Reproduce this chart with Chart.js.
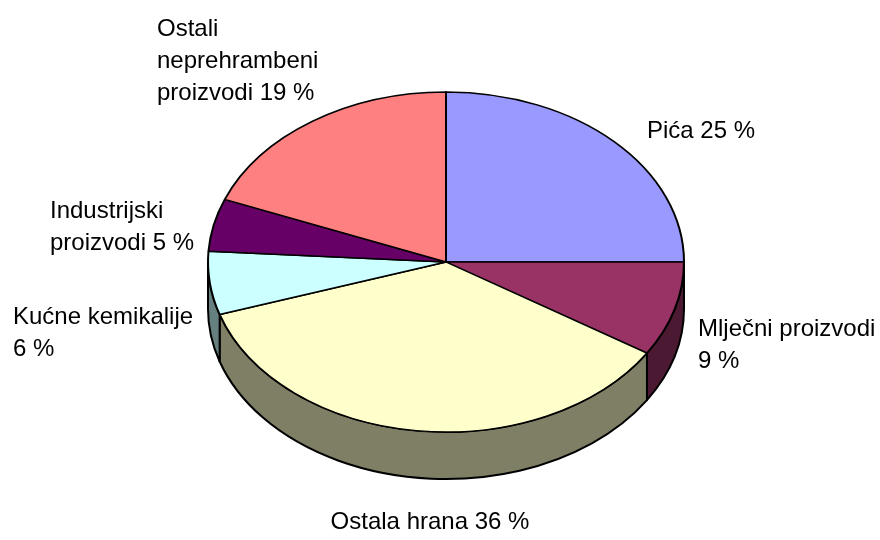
<!DOCTYPE html>
<html>
<head>
<meta charset="utf-8">
<title>Struktura prodaje</title>
<script src="https://cdn.jsdelivr.net/npm/chart.js@4.4.1/dist/chart.umd.min.js"></script>
<style>
    body { margin: 0; background: #fff; }
    canvas { display: block; }
</style>
</head>
<body>
<canvas id="pieChart" width="880" height="540"></canvas>
<script>
// Chart data
const categories = ['Pića', 'Mlječni proizvodi', 'Ostala hrana', 'Kućne kemikalije', 'Industrijski proizvodi', 'Ostali neprehrambeni proizvodi'];
const shares = [25, 9, 36, 6, 5, 19];
const sliceColors = ['#9999FF', '#993366', '#FFFFCC', '#CCFFFF', '#660066', '#FF8080'];

// Look of the fake 3D pie
const tilt = 170 / 238;   // vertical squash of the top face
const depth = 47;         // height of the side wall
const edgeWidth = 2;
const labelFont = '24px "Liberation Sans", Arial, sans-serif';
const lineHeight = 32;

// Label boxes, relative to the pie centre: [dx, dy of first baseline, align, wrap width]
const labelLayout = [
    [201, -124, 'left', 220],
    [252, 74, 'left', 180],
    [-16, 267, 'center', 300],
    [-433, 62, 'left', 185],
    [-396, -44, 'left', 150],
    [-289, -226, 'left', 165]
];

function halfColor(hex) {
    const n = parseInt(hex.slice(1), 16);
    const r = ((n >> 16) & 255) >> 1, g = ((n >> 8) & 255) >> 1, b = (n & 255) >> 1;
    return `rgb(${r}, ${g}, ${b})`;
}

function wrapText(ctx, text, maxWidth) {
    const words = text.split(' ');
    const lines = [];
    let line = '';
    words.forEach(word => {
        const test = line ? line + ' ' + word : word;
        if (line && ctx.measureText(test).width > maxWidth) {
            lines.push(line);
            line = word;
        } else {
            line = test;
        }
    });
    lines.push(line);
    return lines;
}

// Side walls + squashed top face
const pie3d = {
    id: 'pie3d',
    beforeDatasetsDraw(chart) {
        const ctx = chart.ctx;
        const arcs = chart.getDatasetMeta(0).data;
        const { x, y, outerRadius: r } = arcs[0].getProps(['x', 'y', 'outerRadius'], true);
        const ry = r * tilt;

        ctx.save();
        ctx.lineWidth = edgeWidth;
        ctx.strokeStyle = '#000';
        ctx.lineJoin = 'round';
        arcs.forEach((arc, i) => {
            const { startAngle, endAngle } = arc.getProps(['startAngle', 'endAngle'], true);
            // only the front half (canvas angles 0..PI) shows its wall
            const s = Math.max(startAngle, 0);
            const e = Math.min(endAngle, Math.PI);
            if (e <= s) return;
            ctx.beginPath();
            ctx.ellipse(x, y, r, ry, 0, s, e);
            ctx.lineTo(x + r * Math.cos(e), y + ry * Math.sin(e) + depth);
            ctx.ellipse(x, y + depth, r, ry, 0, e, s, true);
            ctx.closePath();
            ctx.fillStyle = halfColor(sliceColors[i]);
            ctx.fill();
            ctx.stroke();
        });
        ctx.restore();

        // squash the pie the library is about to draw
        ctx.save();
        ctx.translate(x, y);
        ctx.scale(1, tilt);
        ctx.translate(-x, -y);
    },
    afterDatasetsDraw(chart) {
        chart.ctx.restore();
    },
    afterDraw(chart) {
        const ctx = chart.ctx;
        const { x, y } = chart.getDatasetMeta(0).data[0].getProps(['x', 'y'], true);
        ctx.save();
        ctx.font = labelFont;
        ctx.fillStyle = '#000';
        ctx.textBaseline = 'alphabetic';
        categories.forEach((cat, i) => {
            const [dx, dy, align, wrap] = labelLayout[i];
            const lines = wrapText(ctx, `${cat} ${shares[i]} %`, wrap);
            ctx.textAlign = align;
            lines.forEach((line, j) => {
                ctx.fillText(line, x + dx, y + dy + j * lineHeight);
            });
        });
        ctx.restore();
    }
};

const pieCtx = document.getElementById('pieChart').getContext('2d');
const pieChart = new Chart(pieCtx, {
    type: 'pie',
    data: {
        labels: categories,
        datasets: [{
            data: shares,
            backgroundColor: sliceColors,
            borderColor: '#000',
            borderWidth: edgeWidth,
            clip: false
        }]
    },
    options: {
        responsive: false,
        animation: false,
        events: [],
        radius: 238,
        layout: {
            padding: { left: 12, right: 0, top: 0, bottom: 16 }
        },
        plugins: {
            legend: { display: false },
            tooltip: { enabled: false }
        }
    },
    plugins: [pie3d]
});
</script>
</body>
</html>
